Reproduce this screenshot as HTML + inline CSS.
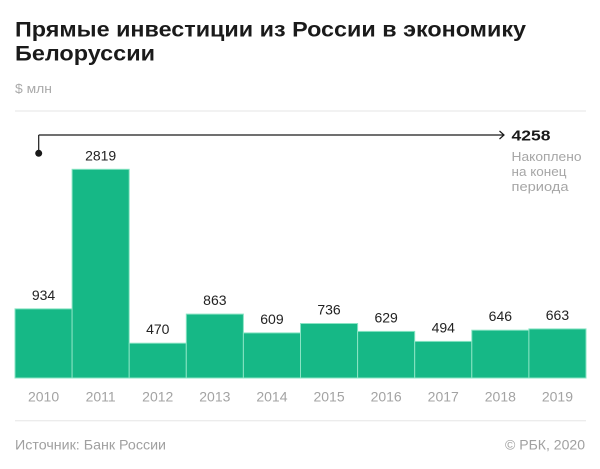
<!DOCTYPE html>
<html><head><meta charset="utf-8"><style>
html,body{margin:0;padding:0;background:#fff;}
svg{display:block;}
text{font-family:"Liberation Sans","Noto Sans CJK SC",sans-serif;}
</style></head><body>
<svg width="600" height="469" viewBox="0 0 600 469" xmlns="http://www.w3.org/2000/svg">
<rect width="600" height="469" fill="#fff"/>
<text x="15" y="36.7" font-size="21.5" font-weight="bold" fill="#1a1a1a" textLength="511" lengthAdjust="spacingAndGlyphs">Прямые инвестиции из России в экономику</text>
<text x="15" y="60.7" font-size="21.5" font-weight="bold" fill="#1a1a1a" textLength="140" lengthAdjust="spacingAndGlyphs">Белоруссии</text>
<text x="15" y="93" font-size="13" fill="#aaaaaa" textLength="37" lengthAdjust="spacingAndGlyphs">$ млн</text>
<line x1="15" y1="111" x2="586" y2="111" stroke="#e6e6e6" stroke-width="1"/>
<!-- cumulative arrow -->
<line x1="38.7" y1="135" x2="504" y2="135" stroke="#1a1a1a" stroke-width="1.2"/>
<line x1="38.7" y1="135" x2="38.7" y2="153" stroke="#1a1a1a" stroke-width="1.2"/>
<circle cx="38.7" cy="153.3" r="3.5" fill="#1a1a1a"/>
<polyline points="499.5,131 504,135 499.5,139" fill="none" stroke="#1a1a1a" stroke-width="1.2"/>
<text x="511.5" y="140.5" font-size="14.5" font-weight="bold" fill="#1a1a1a" textLength="39" lengthAdjust="spacingAndGlyphs">4258</text>
<text x="511.5" y="161" font-size="13" fill="#a6a6a6" textLength="70" lengthAdjust="spacingAndGlyphs">Накоплено</text>
<text x="511.5" y="176" font-size="13" fill="#a6a6a6" textLength="55" lengthAdjust="spacingAndGlyphs">на конец</text>
<text x="511.5" y="191" font-size="13" fill="#a6a6a6" textLength="57" lengthAdjust="spacingAndGlyphs">периода</text>
<!-- bars -->
<g fill="#16b886" stroke="#8ae4c4" stroke-width="1">
<rect x="15" y="308.85" width="57.1" height="69.15"/>
<rect x="72.1" y="169.3" width="57.1" height="208.7"/>
<rect x="129.2" y="343.2" width="57.1" height="34.8"/>
<rect x="186.3" y="314.1" width="57.1" height="63.9"/>
<rect x="243.4" y="332.9" width="57.1" height="45.1"/>
<rect x="300.5" y="323.5" width="57.1" height="54.5"/>
<rect x="357.6" y="331.4" width="57.1" height="46.6"/>
<rect x="414.7" y="341.4" width="57.1" height="36.6"/>
<rect x="471.8" y="330.2" width="57.1" height="47.8"/>
<rect x="528.9" y="328.9" width="57.1" height="49.1"/>
</g>
<g font-size="14" fill="#222" text-anchor="middle">
<text x="43.55" y="299.8">934</text>
<text x="100.65" y="160.3">2819</text>
<text x="157.75" y="334.2">470</text>
<text x="214.85" y="305.1">863</text>
<text x="271.95" y="323.9">609</text>
<text x="329.05" y="314.5">736</text>
<text x="386.15" y="322.4">629</text>
<text x="443.25" y="332.4">494</text>
<text x="500.35" y="321.2">646</text>
<text x="557.45" y="319.9">663</text>
</g>
<g font-size="14" fill="#a3a3a3" text-anchor="middle">
<text x="43.55" y="401.7">2010</text>
<text x="100.65" y="401.7">2011</text>
<text x="157.75" y="401.7">2012</text>
<text x="214.85" y="401.7">2013</text>
<text x="271.95" y="401.7">2014</text>
<text x="329.05" y="401.7">2015</text>
<text x="386.15" y="401.7">2016</text>
<text x="443.25" y="401.7">2017</text>
<text x="500.35" y="401.7">2018</text>
<text x="557.45" y="401.7">2019</text>
</g>
<line x1="15" y1="420.7" x2="586" y2="420.7" stroke="#e6e6e6" stroke-width="1"/>
<text x="15" y="449.3" font-size="14" fill="#a0a0a0" textLength="151" lengthAdjust="spacingAndGlyphs">Источник: Банк России</text>
<text x="505" y="449.3" font-size="14" fill="#a0a0a0" textLength="80" lengthAdjust="spacingAndGlyphs">© РБК, 2020</text>
</svg>
</body></html>
